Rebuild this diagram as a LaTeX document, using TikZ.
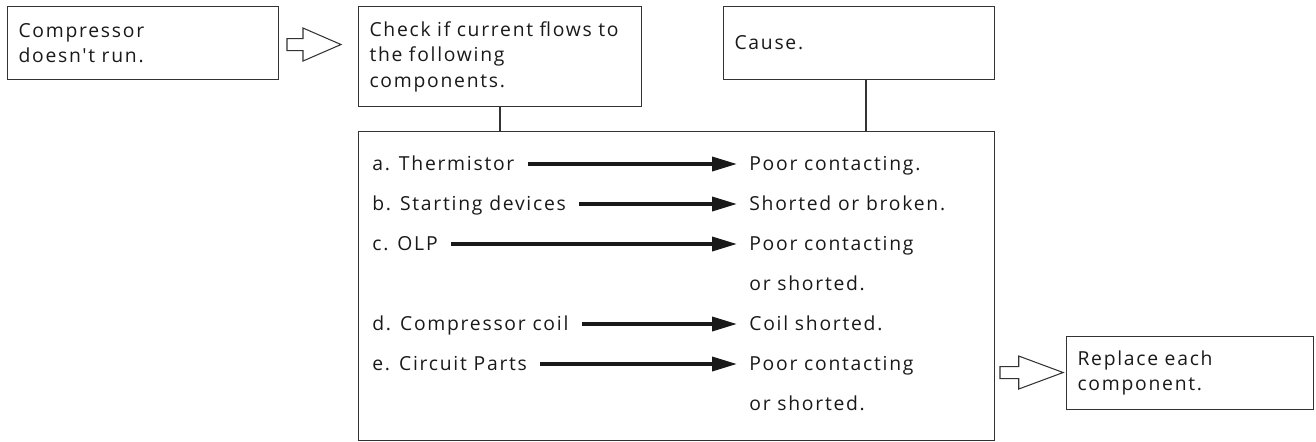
\documentclass[tikz,border=0pt]{standalone}
\usepackage{fontspec}
\setmainfont{Open Sans}[LetterSpace=9, Ligatures=TeXOff]
\usetikzlibrary{arrows.meta, positioning, calc}

\begin{document}
\begin{tikzpicture}[
    x=0.02cm, y=-0.02cm,
    % --- Node styles ---
    panel/.style = {rectangle, draw=black!80, line width=0.6pt, anchor=north west,
        align=left, inner xsep=0.22cm, inner ysep=0pt,
        font=\fontsize{11}{14.5}\selectfont, text=black!90},
    item/.style = {anchor=base west, inner sep=0pt,
        font=\fontsize{11}{14.5}\selectfont, text=black!90},
    reason/.style = {anchor=base west, inner sep=0pt, align=left,
        font=\fontsize{11}{22.7}\selectfont, text=black!90},
    % --- Arrow styles ---
    conn/.style = {line width=2pt, draw=black!90,
        -{Triangle[length=0.5cm, width=0.28cm]},
        shorten <=0.26cm, shorten >=0.24cm},
    link/.style = {line width=0.6pt, draw=black!80},
    hollowarrow/.pic = {
        \draw[line width=0.6pt, draw=black!80, fill=white]
            (0,-6) -- (16,-6) -- (16,-16.5) -- (54,0) -- (16,16.5) -- (16,6) -- (0,6) -- cycle;
    }
]
\useasboundingbox (0,0) rectangle (1316,441);

% ==================== TOP ROW ====================
\node[panel, text width=4.98cm, minimum height=1.46cm] (norun) at (7,6)
    {Compressor\\doesn't run.};

\node[panel, text width=5.22cm, minimum height=2.0cm] (check) at (358,6)
    {Check if current flows to\\the following\\components.};

\node[panel, text width=4.98cm, minimum height=1.46cm] (cause) at (723,6)
    {Cause.};

% ==================== LIST BOX ====================
\node[panel, minimum width=12.72cm, minimum height=6.18cm] (list) at (358,131) {};

\node[item] (thermo)  at (372,170) {a. Thermistor};
\node[item] (starter) at (372,210) {b. Starting devices};
\node[item] (olp)     at (372,250) {c. OLP};
\node[item] (coil)    at (372,330) {d. Compressor coil};
\node[item] (parts)   at (372,370) {e. Circuit Parts};

% two-line causes sit on the baseline of their last line
\node[reason] (thermoR)  at (749,170) {Poor contacting.};
\node[reason] (starterR) at (749,210) {Shorted or broken.};
\node[reason] (olpR)     at (749,290) {Poor contacting\\or shorted.};
\node[reason] (coilR)    at (749,330) {Coil shorted.};
\node[reason] (partsR)   at (749,410) {Poor contacting\\or shorted.};

% ==================== RESULT ====================
\node[panel, text width=4.5cm, minimum height=1.46cm] (replace) at (1066,336)
    {Replace each\\component.};

% ==================== ARROWS ====================
\draw[conn] ($(thermo.base east)+(0,-6)$)  -- ($(thermo.base east -| thermoR.west)+(0,-6)$);
\draw[conn] ($(starter.base east)+(0,-6)$) -- ($(starter.base east -| starterR.west)+(0,-6)$);
\draw[conn] ($(olp.base east)+(0,-6)$)     -- ($(olp.base east -| olpR.west)+(0,-6)$);
\draw[conn] ($(coil.base east)+(0,-6)$)    -- ($(coil.base east -| coilR.west)+(0,-6)$);
\draw[conn] ($(parts.base east)+(0,-6)$)   -- ($(parts.base east -| partsR.west)+(0,-6)$);

% links into the list box
\coordinate (tap) at ($(cause.south)+(7,0)$);
\draw[link] (check.south) -- (check.south |- list.north);
\draw[link] (tap) -- (tap |- list.north);

% hollow arrows
\pic at ($(norun.east)+(8,1.5)$) {hollowarrow};
\pic[xscale=1.17] at ($(replace.west)+(-66,-0.5)$) {hollowarrow};

\end{tikzpicture}
\end{document}
